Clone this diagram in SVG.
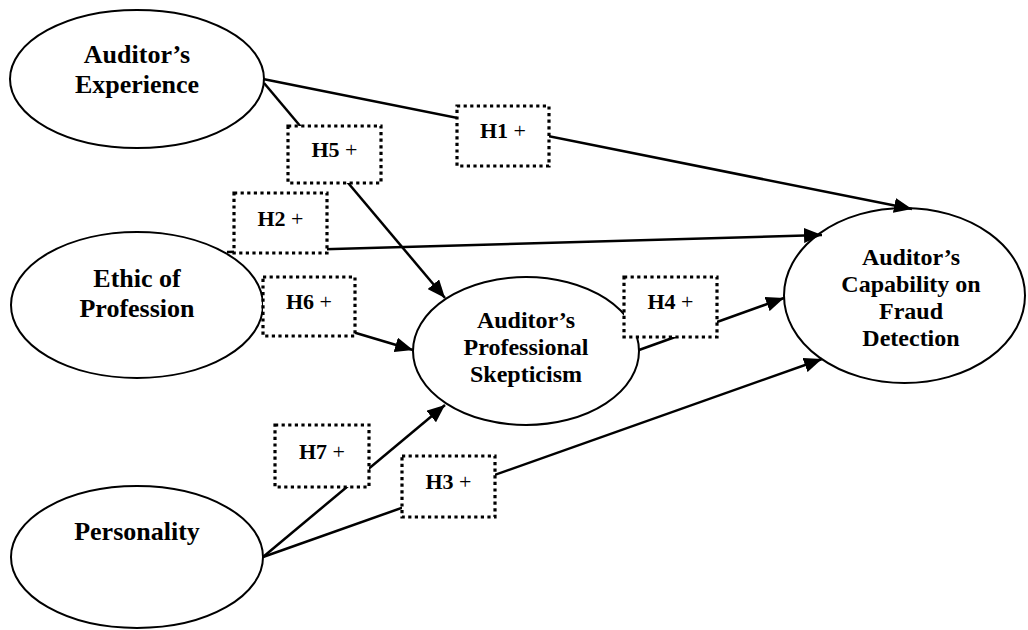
<svg xmlns="http://www.w3.org/2000/svg" width="1028" height="630" viewBox="0 0 1028 630">
<defs>
<style>
.node ellipse{fill:#fff;stroke:#000;stroke-width:2}
.node text{font-family:"Liberation Serif","Times New Roman",serif;font-weight:bold;fill:#000;text-anchor:middle}
.big text{font-size:26px}
.mid text{font-size:24px}
.lbl rect{fill:#fff;stroke:#000;stroke-width:3.2;stroke-dasharray:3.2 3.4}
.lbl text{font-family:"Liberation Serif","Times New Roman",serif;font-weight:bold;font-size:22px;fill:#000;text-anchor:middle}
.lbl tspan.p{font-weight:normal}
#connectors line{stroke:#000;stroke-width:2.5;fill:none}
</style>
<marker id="arr" viewBox="0 0 18 15" refX="18" refY="7.5" markerWidth="18" markerHeight="15" markerUnits="userSpaceOnUse" orient="auto">
<path d="M0,0 L18,7.5 L0,15 Z" fill="#000"/>
</marker>
</defs>
<rect width="1028" height="630" fill="#fff"/>

<g id="n-experience" class="node big">
<ellipse cx="137" cy="79" rx="127" ry="69"/>
<text x="137" y="63">Auditor’s</text>
<text x="137" y="93">Experience</text>
</g>
<g id="n-ethic" class="node big">
<ellipse cx="137" cy="305" rx="126" ry="73"/>
<text x="137" y="287">Ethic of</text>
<text x="137" y="317">Profession</text>
</g>
<g id="n-personality" class="node big">
<ellipse cx="137" cy="557" rx="126" ry="71"/>
<text x="137" y="540">Personality</text>
</g>
<g id="n-skepticism" class="node mid">
<ellipse cx="526" cy="351" rx="113" ry="74"/>
<text x="526" y="328">Auditor’s</text>
<text x="526" y="355">Professional</text>
<text x="526" y="382">Skepticism</text>
</g>
<g id="n-capability" class="node mid">
<ellipse cx="904.5" cy="295.5" rx="120.5" ry="87.5"/>
<text x="911" y="265">Auditor’s</text>
<text x="911" y="292">Capability on</text>
<text x="911" y="319">Fraud</text>
<text x="911" y="346">Detection</text>
</g>

<g id="connectors">
<line x1="263" y1="79" x2="912" y2="209" marker-end="url(#arr)"/>
<line x1="264" y1="83" x2="445" y2="298" marker-end="url(#arr)"/>
<line x1="227" y1="252" x2="822" y2="235" marker-end="url(#arr)"/>
<line x1="262" y1="305" x2="413" y2="350" marker-end="url(#arr)"/>
<line x1="639" y1="350" x2="784" y2="298" marker-end="url(#arr)"/>
<line x1="263" y1="557" x2="445" y2="405" marker-end="url(#arr)"/>
<line x1="263" y1="557" x2="822" y2="359" marker-end="url(#arr)"/>
</g>

<g id="l-h1" class="lbl"><rect x="457" y="106" width="92" height="60"/><text x="503" y="138">H1 <tspan class="p">+</tspan></text></g>
<g id="l-h5" class="lbl"><rect x="288" y="126" width="93" height="57"/><text x="334.5" y="157">H5 <tspan class="p">+</tspan></text></g>
<g id="l-h2" class="lbl"><rect x="234" y="193" width="93" height="60"/><text x="280.5" y="226">H2 <tspan class="p">+</tspan></text></g>
<g id="l-h6" class="lbl"><rect x="263" y="277" width="92" height="59"/><text x="309" y="309">H6 <tspan class="p">+</tspan></text></g>
<g id="l-h4" class="lbl"><rect x="624" y="277" width="93" height="60"/><text x="670.5" y="309">H4 <tspan class="p">+</tspan></text></g>
<g id="l-h7" class="lbl"><rect x="275" y="425" width="94" height="62"/><text x="322" y="459">H7 <tspan class="p">+</tspan></text></g>
<g id="l-h3" class="lbl"><rect x="402" y="456" width="93" height="61"/><text x="448.5" y="489">H3 <tspan class="p">+</tspan></text></g>
</svg>
